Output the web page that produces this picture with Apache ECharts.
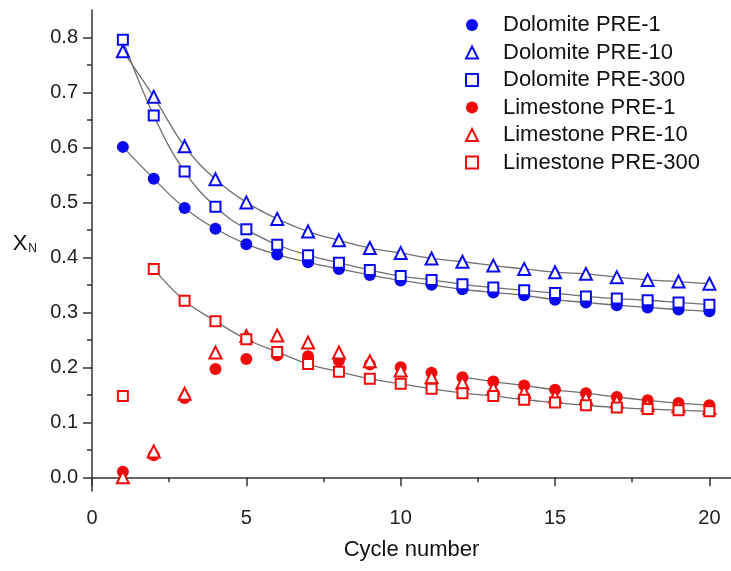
<!DOCTYPE html>
<html>
<head>
<meta charset="utf-8">
<script src="https://cdn.jsdelivr.net/npm/echarts@6/dist/echarts.min.js"></script>
<style>
  html, body { margin: 0; padding: 0; background: #fff; }
  #chart { width: 731px; height: 571px; }
</style>
</head>
<body>
<div id="chart"></div>
<script>
// cycle numbers on x
const cycles = [1, 2, 3, 4, 5, 6, 7, 8, 9, 10, 11, 12, 13, 14, 15, 16, 17, 18, 19, 20];

// X_N
const doloPre1 = [0.601, 0.543, 0.490, 0.452, 0.424, 0.405, 0.391, 0.379, 0.368, 0.358,
  0.350, 0.342, 0.336, 0.331, 0.323, 0.318, 0.313, 0.309, 0.305, 0.302];
const doloPre10 = [0.775, 0.692, 0.602, 0.542, 0.500, 0.470, 0.447, 0.431, 0.417, 0.408,
  0.398, 0.392, 0.385, 0.379, 0.373, 0.370, 0.364, 0.359, 0.356, 0.352];
const doloPre300 = [0.796, 0.658, 0.556, 0.492, 0.451, 0.423, 0.404, 0.390, 0.377, 0.366,
  0.359, 0.351, 0.345, 0.340, 0.335, 0.329, 0.325, 0.322, 0.318, 0.314];
const limePre1 = [0.010, 0.040, 0.144, 0.197, 0.215, 0.222, 0.220, 0.212, 0.205, 0.200,
  0.190, 0.182, 0.174, 0.167, 0.159, 0.153, 0.146, 0.140, 0.135, 0.131];
const limePre10 = [0.000, 0.047, 0.152, 0.227, 0.257, 0.258, 0.245, 0.227, 0.211, 0.194,
  0.182, 0.172, 0.162, 0.155, 0.147, 0.144, 0.138, 0.132, 0.129, 0.126];
const limePre300 = [0.148, 0.379, 0.321, 0.284, 0.251, 0.228, 0.206, 0.192, 0.179, 0.170,
  0.161, 0.153, 0.148, 0.141, 0.136, 0.131, 0.127, 0.124, 0.122, 0.120];

// axis ticks
const xTicks = [0, 5, 10, 15, 20];
const xMinorTicks = [2.5, 7.5, 12.5, 17.5];
const yTicks = [0, 0.1, 0.2, 0.3, 0.4, 0.5, 0.6, 0.7, 0.8];
const yMinorTicks = [0.05, 0.15, 0.25, 0.35, 0.45, 0.55, 0.65, 0.75];

const BLUE = '#0a0af0';
const RED = '#f00a0a';
const FONT = 'Liberation Sans, Arial, sans-serif';

function pairs(vals, from) {
  const out = [];
  for (let i = from || 0; i < vals.length; i++) {
    out.push([cycles[i], vals[i]]);
  }
  return out;
}

// gray fitted curves (drawn under the markers)
function fitLine(name, vals, from) {
  return {
    name: name,
    type: 'line',
    data: pairs(vals, from),
    smooth: 0.4,
    showSymbol: false,
    silent: true,
    z: 1,
    lineStyle: { color: '#707070', width: 1.3 },
  };
}

function marks(name, vals, symbol, color, size) {
  return {
    name: name,
    type: 'scatter',
    data: pairs(vals),
    symbol: symbol,
    symbolSize: size,
    z: 3,
    itemStyle: {
      color: color,
      borderColor: color,
      borderWidth: symbol.indexOf('empty') === 0 ? 1.6 : 0,
      opacity: 1,
    },
  };
}

const myChart = echarts.init(document.getElementById('chart'));

const axisText = { color: '#222', fontSize: 20, fontFamily: FONT };

const option = {
  animation: false,
  backgroundColor: '#fff',
  grid: { left: 92, right: 0, top: 10, bottom: 80, containLabel: false },
  legend: {
    left: 460,
    top: 9,
    orient: 'vertical',
    itemWidth: 12,
    itemHeight: 12,
    itemGap: 5.5,
    selectedMode: false,
    textStyle: {
      color: '#111',
      fontSize: 22,
      lineHeight: 22,
      fontFamily: FONT,
      padding: [0, 0, 0, 20],
    },
    data: ['Dolomite PRE-1', 'Dolomite PRE-10', 'Dolomite PRE-300',
      'Limestone PRE-1', 'Limestone PRE-10', 'Limestone PRE-300'],
  },
  xAxis: [
    {
      type: 'value',
      min: 0,
      max: 20.7,
      position: 'bottom',
      splitLine: { show: false },
      axisLine: { show: true, lineStyle: { color: '#333', width: 1.5 } },
      axisTick: { show: true, length: 9, customValues: xTicks, lineStyle: { color: '#333', width: 1.5 } },
      axisLabel: Object.assign({ margin: 17, customValues: xTicks }, axisText),
      name: 'Cycle number',
      nameLocation: 'middle',
      nameGap: 48,
      nameTextStyle: { color: '#111', fontSize: 22, fontFamily: FONT },
    },
    {
      type: 'value',
      min: 0,
      max: 20.7,
      position: 'bottom',
      splitLine: { show: false },
      axisLine: { show: false },
      axisTick: { show: true, length: 5, customValues: xMinorTicks, lineStyle: { color: '#333', width: 1.5 } },
      axisLabel: { show: false },
    },
  ],
  yAxis: [
    {
      type: 'value',
      min: -0.025,
      max: 0.85,
      position: 'left',
      splitLine: { show: false },
      axisLine: { show: true, lineStyle: { color: '#333', width: 1.5 } },
      axisTick: { show: true, length: 9, customValues: yTicks, lineStyle: { color: '#333', width: 1.5 } },
      axisLabel: Object.assign({
        margin: 14,
        customValues: yTicks,
        formatter: v => v.toFixed(1),
      }, axisText),
      name: '{x|X}{n|N}',
      nameLocation: 'middle',
      nameRotate: 0,
      nameGap: 55,
      nameTextStyle: {
        padding: [0, 0, 14, 0],
        rich: {
          x: { fontSize: 22, color: '#111', fontFamily: FONT },
          n: { fontSize: 12, color: '#111', fontFamily: FONT, padding: [10, 0, 0, 1] },
        },
      },
    },
    {
      type: 'value',
      min: -0.025,
      max: 0.85,
      position: 'left',
      splitLine: { show: false },
      axisLine: { show: false },
      axisTick: { show: true, length: 5, customValues: yMinorTicks, lineStyle: { color: '#333', width: 1.5 } },
      axisLabel: { show: false },
    },
  ],
  series: [
    fitLine('fit D1', doloPre1),
    fitLine('fit D10', doloPre10),
    fitLine('fit D300', doloPre300),
    fitLine('fit L300', limePre300, 1),
    fitLine('fit L1', limePre1, 11),
    marks('Dolomite PRE-1', doloPre1, 'circle', BLUE, 12),
    marks('Dolomite PRE-10', doloPre10, 'emptyTriangle', BLUE, 12),
    marks('Dolomite PRE-300', doloPre300, 'emptyRect', BLUE, 10),
    marks('Limestone PRE-1', limePre1, 'circle', RED, 12),
    marks('Limestone PRE-10', limePre10, 'emptyTriangle', RED, 12),
    marks('Limestone PRE-300', limePre300, 'emptyRect', RED, 10),
  ],
};

myChart.setOption(option);
window.addEventListener('resize', myChart.resize);
</script>
</body>
</html>
